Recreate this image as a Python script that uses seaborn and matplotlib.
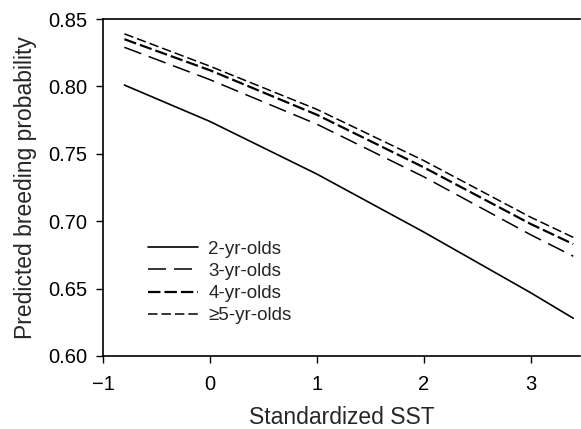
import matplotlib
matplotlib.use("Agg")
import matplotlib.pyplot as plt
import seaborn as sns
import pandas as pd

sst = [-0.8, 0, 1, 2, 3, 3.4]
age2 = [0.801, 0.774, 0.735, 0.692, 0.647, 0.628]
age3 = [0.829, 0.805, 0.772, 0.733, 0.690, 0.674]
age4 = [0.835, 0.812, 0.779, 0.740, 0.698, 0.683]
age5 = [0.839, 0.815, 0.783, 0.745, 0.703, 0.688]
labels = ["2-yr-olds", "3-yr-olds", "4-yr-olds", "\u22655-yr-olds"]

sns.set_style("ticks")
plt.rcParams['font.family'] = ['Liberation Sans', 'DejaVu Sans']

rows = []
for lab, vals in zip(labels, [age2, age3, age4, age5]):
    for x, y in zip(sst, vals):
        rows.append({"SST": x, "p": y, "group": lab})
df = pd.DataFrame(rows)

fig = plt.figure(figsize=(5.81, 4.29), dpi=100)
ax = fig.add_axes([0.1773, 0.1702, 0.8217, 0.7855])

dashes = {labels[0]: "", labels[1]: (11.8, 5.2), labels[2]: (5.6, 1.8), labels[3]: (6.2, 2.6)}
widths = {labels[0]: 1.2, labels[1]: 1.1, labels[2]: 1.6, labels[3]: 1.1}

sns.lineplot(data=df, x="SST", y="p", style="group", style_order=labels,
             dashes=dashes, color="black", ax=ax, legend=True)
for line, lab in zip(ax.get_lines(), labels):
    line.set_linewidth(widths[lab])

ax.set_xlim(-1, 3.467)
ax.set_ylim(0.60, 0.85)
ax.set_xticks([-1, 0, 1, 2, 3])
ax.set_xticklabels(["\u22121", "0", "1", "2", "3"])
ax.set_yticks([0.60, 0.65, 0.70, 0.75, 0.80, 0.85])
ax.set_yticklabels(["0.60", "0.65", "0.70", "0.75", "0.80", "0.85"])
ax.tick_params(axis="both", direction="out", length=5, width=1, labelsize=14.5, colors="black")
ax.tick_params(axis="x", pad=9)
ax.tick_params(axis="y", pad=6)
for s in ["left", "bottom", "top"]:
    ax.spines[s].set_linewidth(1.2)
    ax.spines[s].set_color("black")
ax.spines["right"].set_visible(False)
ax.spines["top"].set_visible(True)

ax.set_xlabel("Standardized SST", fontsize=16.5, labelpad=8)
ax.set_ylabel("Predicted breeding probability", fontsize=16.5, labelpad=8)

leg = ax.legend(loc="upper left", bbox_to_anchor=(0.094, 0.342), frameon=False,
                fontsize=13.5, handlelength=2.67, handletextpad=0.55, labelspacing=0.27,
                borderpad=0, borderaxespad=0)
for h, lab in zip(leg.get_lines(), labels):
    h.set_linewidth(widths[lab])

fig.savefig("out.png", dpi=100)
